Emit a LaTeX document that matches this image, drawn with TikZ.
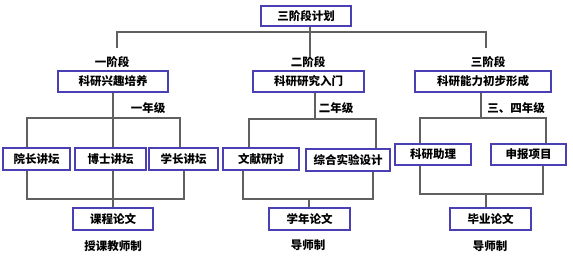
\documentclass[tikz,border=0pt]{standalone}
\usepackage{fontspec}
\setmainfont{Noto Sans CJK SC}
\definecolor{boxc}{HTML}{4A3FB5}
\definecolor{linec}{HTML}{606060}
\begin{document}
\begin{tikzpicture}[x=1pt,y=-1pt,
  bx/.style={draw=boxc,line width=1.2pt,fill=white,inner sep=0pt,minimum height=21pt,font=\fontsize{11.5}{13}\selectfont\bfseries},
  lb/.style={inner sep=0pt,font=\fontsize{11.5}{13}\selectfont\bfseries},
  ln/.style={draw=linec,line width=1.2pt}]
\useasboundingbox (0,0) rectangle (573,257);
% nodes
\node[bx,minimum width=90pt,minimum height=20pt] (top) at (306,16) {三阶段计划};
\node[bx,minimum width=110pt] (s1) at (113,81.5) {科研兴趣培养};
\node[bx,minimum width=111pt] (s2) at (308.5,81.5) {科研研究入门};
\node[bx,minimum width=136pt] (s3) at (483,81.5) {科研能力初步形成};
\node[bx,minimum width=67pt,minimum height=22pt] (a1) at (36.5,159) {院长讲坛};
\node[bx,minimum width=71pt,minimum height=22pt] (a2) at (110.5,159) {博士讲坛};
\node[bx,minimum width=69pt,minimum height=22pt] (a3) at (183.5,159) {学长讲坛};
\node[bx,minimum width=76pt,minimum height=22pt] (b1) at (261,159) {文献研讨};
\node[bx,minimum width=84pt,minimum height=22pt] (b2) at (348,160) {综合实验设计};
\node[bx,minimum width=76pt] (c1) at (433,154.5) {科研助理};
\node[bx,minimum width=75pt] (c2) at (528.5,154.5) {申报项目};
\node[bx,minimum width=80pt,minimum height=22pt] (d1) at (113,219) {课程论文};
\node[bx,minimum width=81pt,minimum height=22pt] (d2) at (309.5,219) {学年论文};
\node[bx,minimum width=81pt,minimum height=22pt] (d3) at (490.5,219) {毕业论文};
% labels
\node[lb] (l1) at (112,62) {一阶段};
\node[lb] (l2) at (308,62) {二阶段};
\node[lb] (l3) at (488,62) {三阶段};
\node[lb] (y1) at (148,108) {一年级};
\node[lb] (y2) at (336,108) {二年级};
\node[lb] (y3) at (516,108) {三、四年级};
\node[lb] (t1) at (113,246) {授课教师制};
\node[lb] (t2) at (308,245) {导师制};
\node[lb] (t3) at (490,246) {导师制};
% top level connectors
\coordinate (jt) at (310,32);
\draw[ln] (top.south -| jt) -- (jt) -- (310,57);
\draw[ln] (117,48) |- (jt) -| (486,48);
% stage 1
\coordinate (h1) at (113,118);
\draw[ln] (s1.south) -- (h1);
\draw[ln] (a1.north -| 27,0) |- (h1) -| (a3.north -| 180,0);
\draw[ln] (h1) -- (a2.north -| h1);
\coordinate (g1) at (113,199);
\draw[ln] (a1.south -| 27,0) |- (g1) -| (a3.south -| 184,0);
\draw[ln] (a2.south -| g1) -- (d1.north -| g1);
% stage 2
\coordinate (h2) at (315,119);
\draw[ln] (s2.south -| h2) -- (h2);
\draw[ln] (b1.north -| 249,0) |- (h2) -| (b2.north -| 376,0);
\coordinate (g2) at (309,199);
\draw[ln] (b1.south -| 243,0) |- (g2) -| (b2.south -| 373,0);
\draw[ln] (g2) -- (d2.north -| g2);
% stage 3
\coordinate (h3) at (481,118);
\draw[ln] (s3.south -| h3) -- (h3);
\draw[ln] (c1.north -| 420,0) |- (h3) -| (c2.north -| 546,0);
\coordinate (g3) at (486,194);
\draw[ln] (c1.south -| 420,0) |- (g3) -| (c2.south -| 543,0);
\draw[ln] (g3) -- (d3.north -| g3);
\end{tikzpicture}
\end{document}
